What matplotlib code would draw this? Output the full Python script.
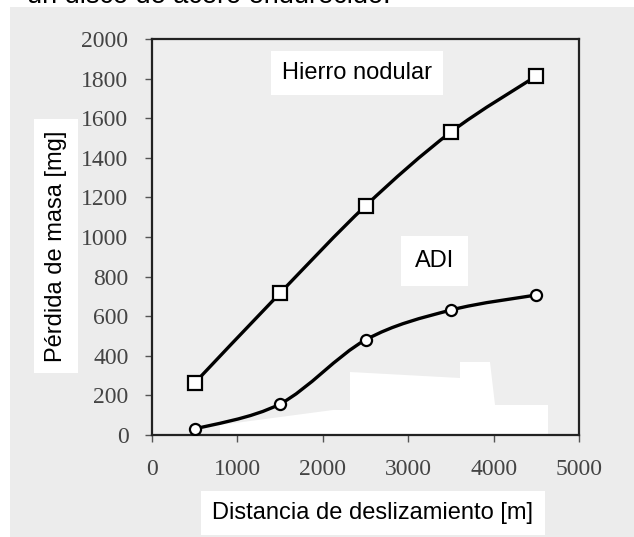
import matplotlib
matplotlib.use("Agg")
import matplotlib.pyplot as plt
import numpy as np
from matplotlib.path import Path
from matplotlib.patches import PathPatch, Rectangle, Polygon

# Data
distancia = [500, 1500, 2500, 3500, 4500]
hierro_nodular = [263, 717, 1157, 1530, 1813]
adi = [30, 157, 480, 631, 707]
xticks = [0, 1000, 2000, 3000, 4000, 5000]
yticks = list(range(0, 2001, 200))

W, H = 634, 537
fig = plt.figure(figsize=(W / 100, H / 100), dpi=100, facecolor="white")

# gray scan background
fig.patches.append(Rectangle((10 / W, 0), 1, 1 - 7 / H, transform=fig.transFigure,
                             facecolor="#ececec", edgecolor="none", zorder=-1))

fig.text(27 / W, 1 - 3 / H, "un disco de acero endurecido.", family="Liberation Sans",
         fontsize=19.5, va="baseline", ha="left", color="black", zorder=-2)

ax = fig.add_axes([152 / W, 1 - 435 / H, 427 / W, 396 / H])
ax.set_facecolor("#eeeeee")
ax.set_xlim(0, 5000)
ax.set_ylim(0, 2000)

# white artifact region in the plot area
pix = [(220, 435), (220, 425), (333, 410), (350, 410), (350, 372), (460, 378), (460, 362),
       (490, 362), (495, 405), (548, 405), (548, 435)]
poly = [((x - 152) / 427, (435 - y) / 396) for x, y in pix]
ax.add_patch(Polygon(poly, closed=True, transform=ax.transAxes, facecolor="white",
                     edgecolor="none", zorder=0.5))


def smooth_path(xs, ys, t=0.5):
    xs = np.asarray(xs, float)
    ys = np.asarray(ys, float)
    n = len(xs)
    verts = [(xs[0], ys[0])]
    codes = [Path.MOVETO]
    for i in range(n - 1):
        p0 = np.array([xs[max(i - 1, 0)], ys[max(i - 1, 0)]])
        p1 = np.array([xs[i], ys[i]])
        p2 = np.array([xs[i + 1], ys[i + 1]])
        p3 = np.array([xs[min(i + 2, n - 1)], ys[min(i + 2, n - 1)]])
        c1 = p1 + (p2 - p0) * t / 3
        c2 = p2 - (p3 - p1) * t / 3
        verts += [tuple(c1), tuple(c2), tuple(p2)]
        codes += [Path.CURVE4] * 3
    return Path(verts, codes)


for ys in (hierro_nodular, adi):
    ax.add_patch(PathPatch(smooth_path(distancia, ys), facecolor="none", edgecolor="black",
                           lw=2.4, zorder=2))

ax.plot(distancia, hierro_nodular, ls="none", marker="s", ms=10, mfc="white", mec="black",
        mew=1.6, zorder=3)
ax.plot(distancia, adi, ls="none", marker="o", ms=8, mfc="white", mec="black",
        mew=1.6, zorder=3)

for s in ax.spines.values():
    s.set_color("#222222")
    s.set_linewidth(1.6)

ax.set_xticks(xticks)
ax.set_yticks(yticks)
ax.tick_params(axis="both", direction="out", length=5, width=1, color="#555555",
               labelcolor="#444444", labelsize=17)
ax.tick_params(axis="y", pad=12)
ax.tick_params(axis="x", pad=12)
for lab in ax.get_xticklabels() + ax.get_yticklabels():
    lab.set_fontfamily("Liberation Serif")

ax.text(0.48, 0.915, "Hierro nodular", transform=ax.transAxes, ha="center", va="center",
        family="Liberation Sans", fontsize=17,
        bbox=dict(facecolor="white", edgecolor="none", pad=8), zorder=4)
ax.text(0.662, 0.439, "ADI", transform=ax.transAxes, ha="center", va="center",
        family="Liberation Sans", fontsize=17,
        bbox=dict(facecolor="white", edgecolor="none", pad=10), zorder=4)

fig.text(373 / W, 1 - 513 / H, "Distancia de deslizamiento [m]", ha="center", va="center",
         family="Liberation Sans", fontsize=17,
         bbox=dict(facecolor="white", edgecolor="none", pad=8))
fig.text(56 / W, 1 - 246 / H, "Pérdida de masa [mg]", ha="center", va="center", rotation=90,
         family="Liberation Sans", fontsize=17,
         bbox=dict(facecolor="white", edgecolor="none", pad=8))

fig.savefig("out.png", dpi=100, facecolor="white")
